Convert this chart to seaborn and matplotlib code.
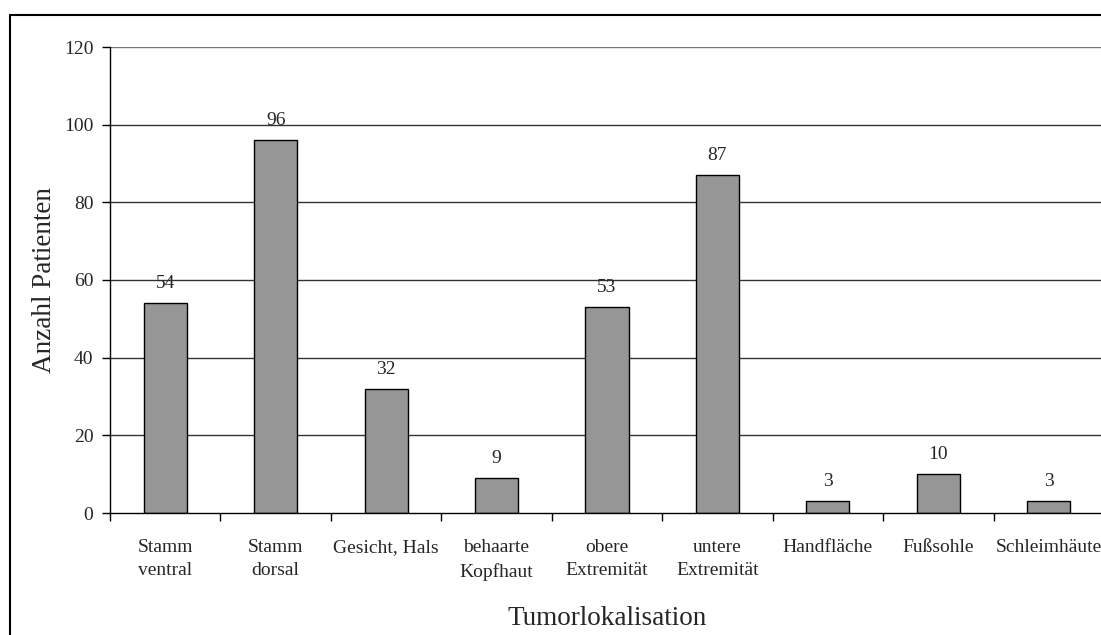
import matplotlib
matplotlib.use("Agg")
import matplotlib.pyplot as plt
from matplotlib.lines import Line2D
import numpy as np
import pandas as pd
import seaborn as sns

# Tumour localisation counts
categories = ["Stamm\nventral", "Stamm\ndorsal", "Gesicht, Hals", "behaarte\nKopfhaut",
              "obere\nExtremität", "untere\nExtremität", "Handfläche", "Fußsohle",
              "Schleimhäute"]
patients = [54, 96, 32, 9, 53, 87, 3, 10, 3]
y_ticks = [0, 20, 40, 60, 80, 100, 120]

sns.set_theme(style="white")
plt.rcParams["font.family"] = ["Liberation Serif", "DejaVu Serif"]

df = pd.DataFrame({"Lokalisation": categories, "Patienten": patients})

fig = plt.figure(figsize=(11.01, 6.35), dpi=100)
ax = fig.add_axes([110 / 1101, 1 - 513 / 635, 994 / 1101, (513 - 47) / 635])

sns.barplot(data=df, x="Lokalisation", y="Patienten", color="#969696",
            saturation=1, width=0.39, edgecolor="black", linewidth=1.0,
            ax=ax, zorder=3)

ax.set_xlim(-0.5, len(categories) - 0.5)
ax.set_ylim(0, 120)
ax.set_yticks(y_ticks)
ax.set_yticklabels([str(t) for t in y_ticks], fontsize=14)
for t in y_ticks[1:]:
    ax.axhline(t, color="#333333" if t < 120 else "#777777",
               linewidth=1.0, zorder=1)

# category labels without ticks, tick marks between categories
ax.set_xticks(range(len(categories)))
ax.set_xticklabels(categories, fontsize=14, linespacing=1.45)
ax.set_xticks(np.arange(-0.5, len(categories), 1.0), minor=True)
ax.tick_params(axis="x", which="major", length=0, pad=19)
ax.tick_params(axis="x", which="minor", length=6, width=1.0, color="black",
               direction="out", bottom=True)
ax.tick_params(axis="y", length=6, width=1.0, color="black", direction="out",
               left=True, pad=6)

for side in ["top", "right"]:
    ax.spines[side].set_visible(False)
for side in ["left", "bottom"]:
    ax.spines[side].set_color("black")
    ax.spines[side].set_linewidth(1.0)
    ax.spines[side].set_zorder(4)

for i, v in enumerate(patients):
    ax.annotate(str(v), (i, v), xytext=(0, 8), textcoords="offset points",
                ha="center", va="bottom", fontsize=14, zorder=5)

ax.set_xlabel("Tumorlokalisation", fontsize=19.5, labelpad=18)
ax.set_ylabel("Anzahl Patienten", fontsize=19.5, labelpad=5)

# frame around the chart area (left and top edges)
fig.add_artist(Line2D([10 / 1101, 10 / 1101], [0, 1 - 15 / 635],
                      transform=fig.transFigure, color="black", linewidth=1.5))
fig.add_artist(Line2D([10 / 1101, 1], [1 - 15 / 635, 1 - 15 / 635],
                      transform=fig.transFigure, color="black", linewidth=1.5))

fig.savefig("out.png", dpi=100, facecolor="white")
